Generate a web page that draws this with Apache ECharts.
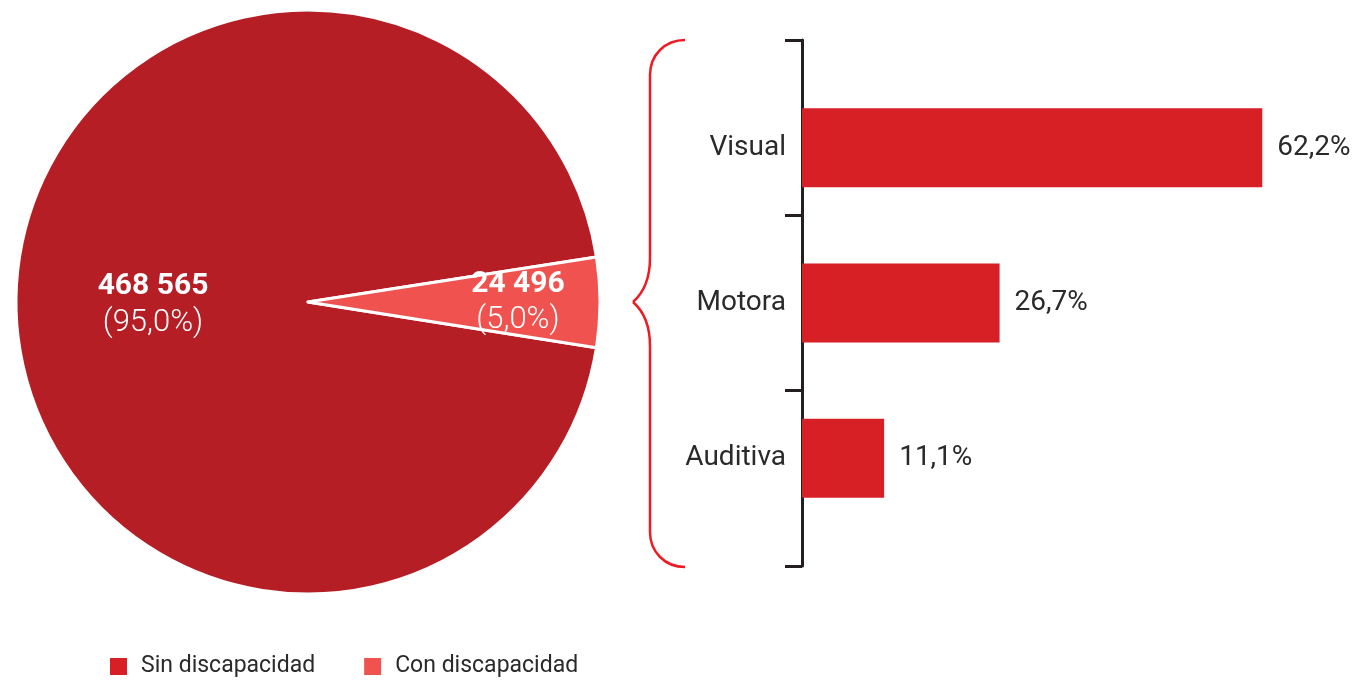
<!DOCTYPE html>
<html>
<head>
<meta charset="utf-8">
<script src="https://cdn.jsdelivr.net/npm/echarts@6/dist/echarts.min.js"></script>
<style>
  html, body { margin: 0; padding: 0; background: #fff; }
  #chart { width: 1361px; height: 680px; }
</style>
</head>
<body>
<div id="chart"></div>
<script>
const pieNames = ["Sin discapacidad", "Con discapacidad"];
const pieValues = [468565, 24496];
const categories = ["Visual", "Motora", "Auditiva"];
const barValues = [62.2, 26.7, 11.1];

const FONT = "Roboto";
const TEXT = "#2b2a2b";

function thousands(v) {
  return String(v).replace(/\B(?=(\d{3})+(?!\d))/g, " ");
}
function comma(v, d) {
  return Number(v).toFixed(d).replace(".", ",");
}

const total = pieValues.reduce((a, b) => a + b, 0);
const pieColors = ["#b51e25", "#f0524f"];
const legendColors = ["#d71f26", "#f0524f"];

const pieLabel = {
  show: true,
  position: "inside",
  formatter: p => `{a|${thousands(p.value)}}\n{b|(${comma(p.value / total * 100, 1)}%)}`,
  rich: {
    a: { fontFamily: FONT, fontWeight: "bold", fontSize: 30, color: "#fff", lineHeight: 36 },
    b: { fontFamily: FONT, fontWeight: 300, fontSize: 31, color: "#fff", lineHeight: 36 }
  }
};

// brace drawn from simple pieces
const braceStyle = { fill: "none", stroke: "#ed1c24", lineWidth: 2.5 };
function curve(x1, y1, cx1, cy1, cx2, cy2, x2, y2) {
  return { type: "bezierCurve", shape: { x1, y1, cpx1: cx1, cpy1: cy1, cpx2: cx2, cpy2: cy2, x2, y2 }, style: braceStyle };
}
function seg(x1, y1, x2, y2) {
  return { type: "line", shape: { x1, y1, x2, y2 }, style: braceStyle };
}
const brace = [
  curve(685, 40, 665, 40, 650, 55, 650, 75),
  seg(650, 75, 650, 258),
  curve(650, 258, 650, 282, 641, 295, 633, 302),
  curve(633, 302, 641, 309, 650, 322, 650, 346),
  seg(650, 346, 650, 532),
  curve(650, 532, 650, 552, 665, 567, 685, 567)
];

let chart = echarts.init(document.getElementById("chart"));
chart.setOption({
  animation: false,
  legend: {
    left: 105,
    top: 650,
    itemWidth: 17,
    itemHeight: 17,
    itemGap: 49,
    icon: "rect",
    textStyle: { fontFamily: FONT, fontSize: 23, color: TEXT, padding: [0, 0, 0, 9] },
    data: pieNames.map((n, i) => ({ name: n, itemStyle: { color: legendColors[i], borderWidth: 0 } }))
  },
  grid: [
    { left: 802, top: 40, width: 518, height: 526 },
    { left: 802, top: 70, width: 518, height: 466 }
  ],
  xAxis: [
    { type: "value", gridIndex: 0, min: 0, max: 70, show: false },
    { type: "value", gridIndex: 1, min: 0, max: 70, show: false }
  ],
  yAxis: [
    {
      type: "category", gridIndex: 0, data: categories, inverse: true,
      axisLine: { show: true, lineStyle: { color: "#231f20", width: 3 } },
      axisTick: { show: true, length: 17, lineStyle: { color: "#231f20", width: 3 } },
      axisLabel: { show: false },
      splitLine: { show: false }
    },
    {
      type: "category", gridIndex: 1, data: categories, inverse: true,
      axisLine: { show: false },
      axisTick: { show: false },
      axisLabel: { margin: 16, fontFamily: FONT, fontSize: 28, color: TEXT }
    }
  ],
  graphic: brace,
  series: [
    {
      type: "pie",
      center: [308, 302],
      radius: 292,
      startAngle: 351,
      clockwise: true,
      itemStyle: { borderColor: "#fff", borderWidth: 3 },
      labelLine: { show: false },
      data: pieNames.map((n, i) => ({
        name: n,
        value: pieValues[i],
        itemStyle: { color: pieColors[i] },
        label: Object.assign({}, pieLabel, { padding: i === 0 ? [6, 12, 0, 0] : [0, 0, 0, 122] })
      }))
    },
    {
      type: "bar",
      xAxisIndex: 1,
      yAxisIndex: 1,
      barWidth: 79,
      data: barValues,
      itemStyle: { color: "#d71f26" },
      label: {
        show: true,
        position: "right",
        distance: 15,
        formatter: p => comma(p.value, 1) + "%",
        fontFamily: FONT,
        fontSize: 28,
        color: TEXT
      }
    }
  ]
});
</script>
</body>
</html>
